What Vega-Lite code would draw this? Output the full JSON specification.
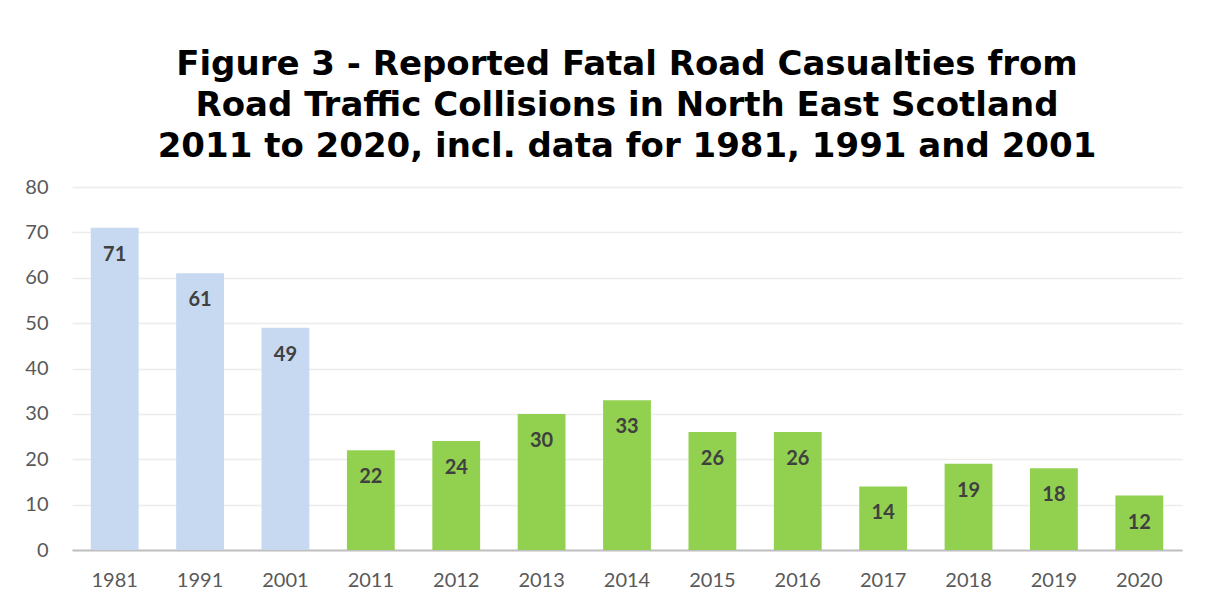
{
  "$schema": "https://vega.github.io/schema/vega-lite/v6.json",
  "autosize": {"type": "none"},
  "padding": {"left": 72, "top": 187, "right": 27, "bottom": 60},
  "width": 1110,
  "height": 363,
  "background": "white",
  "title": {
    "text": ["Figure 3 - Reported Fatal Road Casualties from", "Road Traffic Collisions in North East Scotland", "2011 to 2020, incl. data for 1981, 1991 and 2001"],
    "font": "DejaVu Sans",
    "fontSize": 34,
    "fontWeight": "bold",
    "color": "#000000",
    "lineHeight": 41,
    "anchor": "middle",
    "offset": 13
  },
  "data": {
    "values": [
      {"year": "1981", "value": 71, "group": "hist"},
      {"year": "1991", "value": 61, "group": "hist"},
      {"year": "2001", "value": 49, "group": "hist"},
      {"year": "2011", "value": 22, "group": "recent"},
      {"year": "2012", "value": 24, "group": "recent"},
      {"year": "2013", "value": 30, "group": "recent"},
      {"year": "2014", "value": 33, "group": "recent"},
      {"year": "2015", "value": 26, "group": "recent"},
      {"year": "2016", "value": 26, "group": "recent"},
      {"year": "2017", "value": 14, "group": "recent"},
      {"year": "2018", "value": 19, "group": "recent"},
      {"year": "2019", "value": 18, "group": "recent"},
      {"year": "2020", "value": 12, "group": "recent"}
    ]
  },
  "config": {
    "view": {"stroke": null},
    "axis": {"labelFont": "Lato", "labelFontSize": 20, "labelColor": "#595959", "title": null, "ticks": false}
  },
  "encoding": {
    "x": {
      "field": "year", "type": "nominal", "sort": null,
      "scale": {"paddingInner": 0.44, "paddingOuter": 0.22},
      "axis": {"labelAngle": 0, "labelPadding": 20, "domainColor": "#bfbfbf", "domainWidth": 2, "grid": false}
    },
    "y": {
      "field": "value", "type": "quantitative",
      "scale": {"domain": [0, 80]},
      "axis": {"values": [0, 10, 20, 30, 40, 50, 60, 70, 80], "domain": false, "gridColor": "#ececec", "gridWidth": 1.5, "labelPadding": 24}
    }
  },
  "layer": [
    {
      "mark": {"type": "bar"},
      "encoding": {
        "color": {"field": "group", "type": "nominal", "scale": {"domain": ["hist", "recent"], "range": ["#c6d9f0", "#92d050"]}, "legend": null}
      }
    },
    {
      "mark": {"type": "text", "font": "Lato", "fontSize": 20, "fontWeight": "bold", "color": "#404040", "baseline": "middle", "dy": 27},
      "encoding": {"text": {"field": "value", "type": "quantitative"}}
    }
  ]
}
